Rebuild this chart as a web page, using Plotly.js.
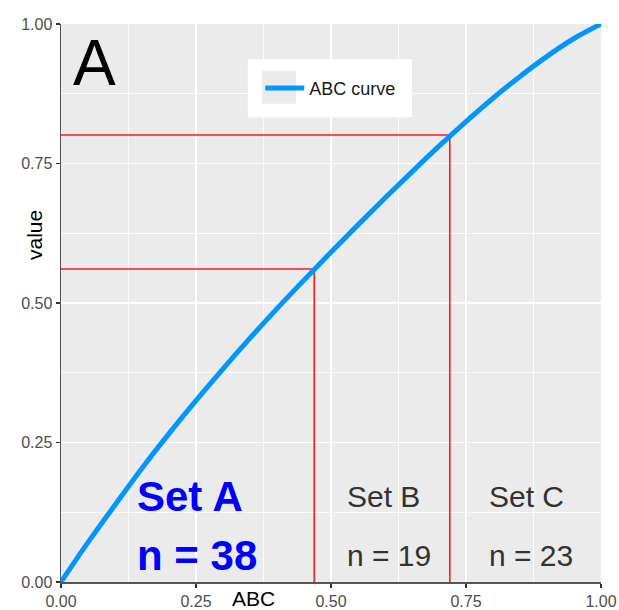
<!DOCTYPE html>
<html>
<head>
<meta charset="utf-8">
<script src="https://cdn.plot.ly/plotly-3.0.1.min.js"></script>
<style>html,body{margin:0;padding:0;background:#fff;}#chart{width:619px;height:610px;}</style>
</head>
<body>
<div id="chart"></div>
<script>
// Curve data
const curveX = [0, 0.05, 0.10, 0.15, 0.20, 0.25, 0.30, 0.35, 0.40, 0.45, 0.50, 0.55, 0.60, 0.65, 0.70, 0.75, 0.80, 0.85, 0.90, 0.95, 1.00];
const curveY = [0, 0.071, 0.138, 0.204, 0.266, 0.325, 0.382, 0.437, 0.490, 0.541, 0.591, 0.640, 0.688, 0.735, 0.781, 0.825, 0.867, 0.906, 0.942, 0.974, 1.00];
// Cutoffs
const cutX = [0.469, 0.72];
const cutY = [0.561, 0.801];
// Group labels
const setNames = ["Set A", "Set B", "Set C"];
const setCounts = ["n = 38", "n = 19", "n = 23"];
const setLabelX = [0.137, 0.526, 0.789];
const tickVals = [0, 0.25, 0.5, 0.75, 1];
const tickText = ["0.00", "0.25", "0.50", "0.75", "1.00"];

const FONT = "'Liberation Sans', Arial, sans-serif";
const traces = [];
cutX.forEach((cx, i) => {
  traces.push({x: [0, cx, cx], y: [cutY[i], cutY[i], 0], mode: 'lines', type: 'scatter',
    line: {color: '#FF1A1A', width: 1.6}, showlegend: false, hoverinfo: 'skip'});
});
traces.push({x: curveX, y: curveY, mode: 'lines', type: 'scatter', name: 'ABC curve',
  line: {color: '#0096FF', width: 5, shape: 'spline', smoothing: 1}, cliponaxis: false});

const annotations = [];
setNames.forEach((s, i) => {
  const bold = i === 0;
  const st = bold ? {family: FONT, size: 42, color: '#0000FF', weight: 'bold'} : {family: FONT, size: 30, color: '#333333'};
  annotations.push({x: setLabelX[i], y: 0.154, xref: 'x', yref: 'y', text: bold ? '<b>' + s + '</b>' : s,
    showarrow: false, xanchor: 'left', yanchor: 'middle', font: st});
  annotations.push({x: setLabelX[i], y: 0.047, xref: 'x', yref: 'y', text: bold ? '<b>' + setCounts[i] + '</b>' : setCounts[i],
    showarrow: false, xanchor: 'left', yanchor: 'middle', font: st});
});
annotations.push({x: 0.019, y: 0.93, xref: 'paper', yref: 'paper', text: 'A', showarrow: false,
  xanchor: 'left', yanchor: 'middle', font: {family: FONT, size: 64, color: '#000'}});
annotations.push({x: 0.357, y: -0.029, xref: 'paper', yref: 'paper', text: 'ABC', showarrow: false,
  xanchor: 'center', yanchor: 'middle', font: {family: FONT, size: 21, color: '#000'}});
annotations.push({x: -0.048, y: 0.622, xref: 'paper', yref: 'paper', text: 'value', showarrow: false, textangle: -90,
  xanchor: 'center', yanchor: 'middle', font: {family: FONT, size: 21, color: '#000'}});

const axisCommon = {range: [0, 1], tickvals: tickVals, ticktext: tickText, showgrid: true, gridcolor: '#fff', gridwidth: 1.5,
  minor: {showgrid: true, gridcolor: '#fff', gridwidth: 0.8, dtick: 0.125, tick0: 0},
  ticks: 'outside', ticklen: 4, tickwidth: 1.2, tickcolor: '#333', showline: true, linecolor: '#555', linewidth: 1.5,
  zeroline: false, tickfont: {family: FONT, size: 16, color: '#4D4D4D'}, fixedrange: true};

const layout = {
  width: 619, height: 610,
  margin: {l: 61, r: 18, t: 24, b: 28},
  paper_bgcolor: '#fff', plot_bgcolor: '#EBEBEB',
  font: {family: FONT},
  xaxis: Object.assign({}, axisCommon),
  yaxis: Object.assign({}, axisCommon),
  showlegend: true,
  legend: {x: 0.369, y: 0.918, xanchor: 'left', yanchor: 'top', bgcolor: 'rgba(0,0,0,0)', borderwidth: 0, itemwidth: 39,
    font: {family: FONT, size: 18, color: '#1a1a1a'}},
  shapes: [
    {type: 'rect', xref: 'paper', yref: 'paper', x0: 0.346, x1: 0.650, y0: 0.833, y1: 0.937, fillcolor: '#fff', line: {width: 0}, layer: 'above'},
    {type: 'rect', xref: 'paper', yref: 'paper', x0: 0.372, x1: 0.435, y0: 0.857, y1: 0.916, fillcolor: '#EBEBEB', line: {width: 0}, layer: 'above'}
  ],
  annotations: annotations
};
Plotly.newPlot('chart', traces, layout, {displayModeBar: false, staticPlot: true});
</script>
</body>
</html>
